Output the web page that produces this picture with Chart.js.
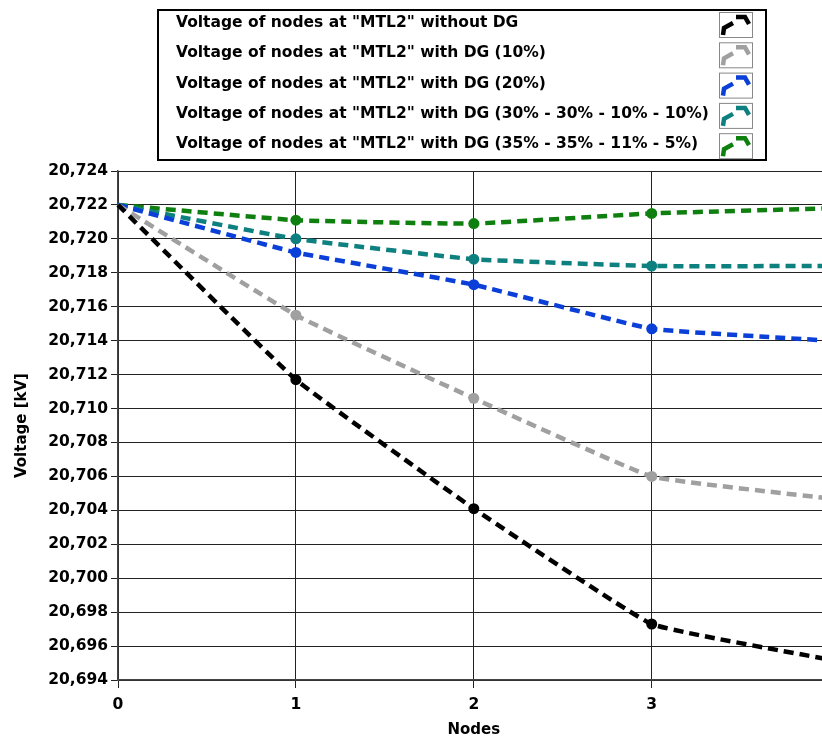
<!DOCTYPE html>
<html>
<head>
<meta charset="utf-8">
<script src="https://cdn.jsdelivr.net/npm/chart.js@4"></script>
<style>
  body { margin: 0; background: #fff; overflow: hidden; }
  #wrap { width: 822px; height: 740px; overflow: hidden; position: relative; }
  canvas { position: absolute; left: 0; top: 0; }
</style>
</head>
<body>
<div id="wrap"><canvas id="chart" width="843" height="740"></canvas></div>
<script>
const nodes = ["0", "1", "2", "3", "4"];
const seriesNames = [
  'Voltage of nodes at "MTL2" without DG',
  'Voltage of nodes at "MTL2" with DG (10%)',
  'Voltage of nodes at "MTL2" with DG (20%)',
  'Voltage of nodes at "MTL2" with DG (30% - 30% - 10% - 10%)',
  'Voltage of nodes at "MTL2" with DG (35% - 35% - 11% - 5%)'
];
const withoutDG = [20.722, 20.7117, 20.7041, 20.6973, 20.6952];
const dg10 = [20.722, 20.7155, 20.7106, 20.7060, 20.7047];
const dg20 = [20.722, 20.7192, 20.7173, 20.7147, 20.7140];
const dg30 = [20.722, 20.7200, 20.7188, 20.7184, 20.7184];
const dg35 = [20.722, 20.7211, 20.7209, 20.7215, 20.7218];
const colors = ["#000000", "#a0a0a0", "#0a3fd8", "#0f8080", "#0f800f"];

const yTicks = { min: 20.694, max: 20.724, step: 0.002 };

const FONT = "'DejaVu Sans', sans-serif";

// legend drawn in the top padding, boxed, icons on the right
const boxLegend = {
  id: "boxLegend",
  afterDraw(chart) {
    const ctx = chart.ctx;
    ctx.save();
    ctx.strokeStyle = "#000";
    ctx.lineWidth = 2;
    ctx.strokeRect(158, 10, 608, 150);
    ctx.font = "bold 15.5px " + FONT;
    ctx.textBaseline = "middle";
    chart.data.datasets.forEach((ds, i) => {
      const cy = 23 + i * 30.3;
      ctx.fillStyle = "#000";
      ctx.fillText(ds.label, 176, cy);
      // icon
      const ix = 719, iy = cy - 11;
      ctx.strokeStyle = "#888";
      ctx.lineWidth = 1;
      ctx.strokeRect(ix + 0.5, iy + 0.5, 33, 25);
      ctx.strokeStyle = ds.borderColor;
      ctx.lineWidth = 4.5;
      ctx.beginPath();
      ctx.moveTo(ix + 4, iy + 23);
      ctx.lineTo(ix + 5, iy + 16);
      ctx.lineTo(ix + 14, iy + 11);
      ctx.stroke();
      ctx.beginPath();
      ctx.moveTo(ix + 17, iy + 5);
      ctx.lineTo(ix + 26, iy + 5);
      ctx.lineTo(ix + 30, iy + 12);
      ctx.stroke();
    });
    ctx.restore();
  }
};

const seriesData = [withoutDG, dg10, dg20, dg30, dg35];

new Chart(document.getElementById("chart"), {
  type: "line",
  data: {
    labels: nodes,
    datasets: seriesData.map((d, i) => ({
      label: seriesNames[i],
      data: d,
      borderColor: colors[i],
      backgroundColor: colors[i],
      borderWidth: 4.5,
      borderDash: [10, 6],
      pointRadius: [0, 5.5, 5.5, 5.5, 5.5],
      pointBorderWidth: 0,
      tension: 0.1,
      fill: false
    }))
  },
  options: {
    responsive: false,
    devicePixelRatio: 1,
    animation: false,
    layout: { padding: { top: 171, right: 0, left: 0, bottom: 0 } },
    plugins: {
      legend: { display: false },
      tooltip: { enabled: false }
    },
    scales: {
      x: {
        type: "category",
        afterFit: (s) => { s.height = 60; },
        grid: { color: "#222", lineWidth: 1, tickLength: 8, drawTicks: true },
        border: { color: "#444", width: 1.5 },
        ticks: { color: "#000", font: { family: FONT, size: 15.5, weight: "bold" }, padding: 8 },
        title: {
          display: true, text: "Nodes", color: "#000",
          font: { family: FONT, size: 15, weight: "bold" },
          padding: { top: 0, bottom: 1 }
        }
      },
      y: {
        min: yTicks.min,
        max: yTicks.max,
        afterFit: (s) => { s.width = 118; },
        grid: { color: "#222", lineWidth: 1, tickLength: 7 },
        border: { color: "#444", width: 1.5 },
        ticks: {
          stepSize: yTicks.step,
          color: "#000",
          font: { family: FONT, size: 15.5, weight: "bold" },
          padding: 3,
          callback: (v) => Number(v).toFixed(3).replace(".", ",")
        },
        title: {
          display: true, text: "Voltage [kV]", color: "#000",
          font: { family: FONT, size: 15, weight: "bold" },
          padding: { top: 13, bottom: 0 }
        }
      }
    }
  },
  plugins: [boxLegend]
});
</script>
</body>
</html>
